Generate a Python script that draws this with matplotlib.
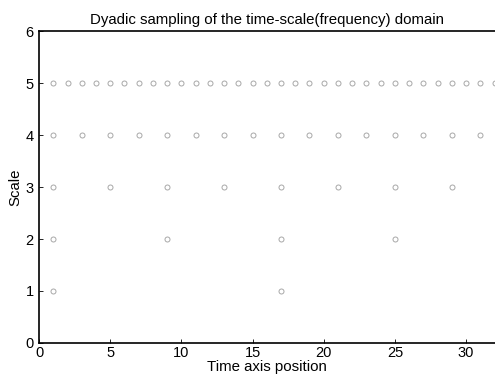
import matplotlib
matplotlib.use("Agg")
import matplotlib.pyplot as plt

# Dyadic sampling positions per scale
scale1_x = [1, 17]
scale2_x = [1, 9, 17, 25]
scale3_x = [1, 5, 9, 13, 17, 21, 25, 29]
scale4_x = [1, 3, 5, 7, 9, 11, 13, 15, 17, 19, 21, 23, 25, 27, 29, 31]
scale5_x = [1, 2, 3, 4, 5, 6, 7, 8, 9, 10, 11, 12, 13, 14, 15, 16,
            17, 18, 19, 20, 21, 22, 23, 24, 25, 26, 27, 28, 29, 30, 31, 32]
scales = [1, 2, 3, 4, 5]
positions = [scale1_x, scale2_x, scale3_x, scale4_x, scale5_x]

xticks = [0, 5, 10, 15, 20, 25, 30]
yticks = [0, 1, 2, 3, 4, 5, 6]

plt.rcParams['font.family'] = ['Liberation Sans', 'DejaVu Sans']

fig = plt.figure(figsize=(4.95, 3.76), dpi=100)
ax = fig.add_axes([0.079, 0.088, 0.92, 0.829])

for s, xs in zip(scales, positions):
    ax.plot(xs, [s] * len(xs), linestyle='none', marker='o', markersize=3.6,
            markerfacecolor='none', markeredgecolor='#a8a8a8', markeredgewidth=0.7)

ax.set_xlim(0, 32)
ax.set_ylim(0, 6)
ax.set_xticks(xticks)
ax.set_yticks(yticks)
ax.tick_params(direction='in', length=3, labelsize=10.5, width=0.6, top=False, right=False)
ax.tick_params(axis='x', pad=2)
ax.tick_params(axis='y', pad=4)
for sp in ax.spines.values():
    sp.set_linewidth(1.2)
    sp.set_color('black')
ax.spines['right'].set_visible(False)

ax.set_title('Dyadic sampling of the time-scale(frequency) domain', fontsize=10.8, pad=5)
ax.set_xlabel('Time axis position', fontsize=10.8, labelpad=0)
ax.set_ylabel('Scale', fontsize=10.8, labelpad=2)

fig.savefig('out.png', dpi=100)
